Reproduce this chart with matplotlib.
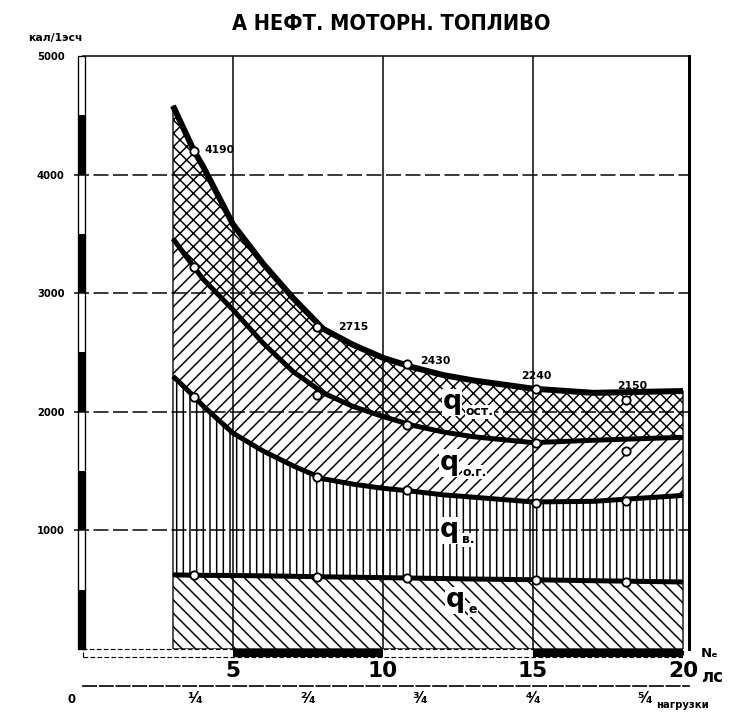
import numpy as np
import matplotlib
matplotlib.use('Agg', force=True)
import matplotlib.pyplot as plt
from matplotlib.patches import Rectangle

plt.rcParams['font.family'] = ['DejaVu Sans']
plt.rcParams['hatch.linewidth'] = 0.9

title = 'А НЕФТ. МОТОРН. ТОПЛИВО'
y_unit = 'кал/1эсч'

# мощность Ne, л.с. и границы слоёв баланса, кал/1эсч
ne = [3.0, 3.7, 4.0, 5.0, 6.0, 7.0, 8.0, 9.0, 10.0, 11.0, 12.0, 13.0, 15.0, 17.0, 20.0]
q_total = [4580, 4200, 4070, 3580, 3250, 2960, 2700, 2565, 2455, 2375, 2310, 2265, 2195, 2160, 2175]
q_og_top = [3460, 3220, 3120, 2860, 2580, 2340, 2160, 2045, 1960, 1885, 1830, 1790, 1740, 1760, 1785]
q_v_top = [2300, 2130, 2050, 1820, 1670, 1545, 1435, 1390, 1355, 1330, 1300, 1280, 1240, 1245, 1295]
q_e_top = [625, 622, 621, 620, 617, 613, 609, 605, 602, 598, 594, 590, 584, 576, 565]

# измеренные точки
pts_ne = [3.7, 7.8, 10.8, 15.1, 18.1]
pts_total = [4200, 2715, 2400, 2190, 2100]
pts_og = [3220, 2140, 1890, 1735, 1670]
pts_v = [2125, 1450, 1340, 1230, 1245]
pts_e = [622, 607, 600, 585, 568]
pts_labels = ['4190', '2715', '2430', '2240', '2150']

x_ticks = [5, 10, 15, 20]
y_ticks = [1000, 2000, 3000, 4000, 5000]
load_pos = [3.75, 7.5, 11.25, 15, 18.75]
load_labels = ['¹⁄₄', '²⁄₄', '³⁄₄', '⁴⁄₄', '⁵⁄₄']

fig = plt.figure(figsize=(753/120, 719/120), dpi=120)
ax = fig.add_axes([83/753, 70/719, 606/753, 593/719])
ax.set_xlim(0, 20.2)
ax.set_ylim(0, 5000)

for y in y_ticks[:-1]:
    ax.plot([-0.3, 20.2], [y, y], color='black', lw=0.9, ls=(0, (10, 3)), zorder=1, clip_on=False)
for xv in x_ticks[:-1]:
    ax.axvline(xv, color='black', lw=0.9, zorder=1)

zero = [0]*len(ne)
ax.fill_between(ne, zero, q_e_top, facecolor='none', edgecolor='black', hatch='\\\\\\', lw=0.8, zorder=2)
ax.fill_between(ne, q_e_top, q_v_top, facecolor='none', edgecolor='black', hatch='|||', lw=0.8, zorder=2)
ax.fill_between(ne, q_v_top, q_og_top, facecolor='none', edgecolor='black', hatch='///', lw=0.8, zorder=2)
ax.fill_between(ne, q_og_top, q_total, facecolor='none', edgecolor='black', hatch='xxx', lw=0.8, zorder=2)

ax.plot(ne, q_total, color='black', lw=3.6, solid_capstyle='butt', solid_joinstyle='round', zorder=3)
for curve in (q_og_top, q_v_top, q_e_top):
    ax.plot(ne, curve, color='black', lw=3.0, solid_capstyle='butt', solid_joinstyle='round', zorder=3)

for pts in (pts_total, pts_og, pts_v, pts_e):
    ax.plot(pts_ne, pts, 'o', ms=5, mfc='white', mec='black', mew=1.1, zorder=4)

offsets = [(0.35, 10, 'left'), (0.7, 0, 'left'), (0.45, 30, 'left'), (0, 110, 'center'), (0.2, 120, 'center')]
for xv, yv, lab, (dx, dy, ha) in zip(pts_ne, pts_total, pts_labels, offsets):
    ax.text(xv + dx, yv + dy, lab, ha=ha, va='center', fontsize=6.5, fontweight='bold', zorder=5)

# обозначения слоёв
layers = [(12.3, 2080, 'ост.'), (12.2, 1570, 'о.г.'), (12.2, 1000, 'в.'), (12.4, 410, 'е')]
for xv, yv, sub in layers:
    ax.text(xv, yv, 'q', ha='center', va='center', fontsize=16, fontweight='bold', zorder=5,
            bbox=dict(facecolor='white', edgecolor='none', pad=0.5))
    ax.text(xv + 0.45, yv - 80, sub, ha='left', va='center', fontsize=7.5, fontweight='bold', zorder=5,
            bbox=dict(facecolor='white', edgecolor='none', pad=0.3))

# шкала-линейка по осям
for spine in ('left', 'bottom'):
    ax.spines[spine].set_visible(False)
ax.spines['top'].set_linewidth(0.9)
ax.spines['right'].set_linewidth(1.8)

ax.add_patch(Rectangle((-0.18, 0), 0.25, 5000, fill=False, lw=0.8, clip_on=False, zorder=6))
for y0 in range(0, 5000, 1000):
    ax.add_patch(Rectangle((-0.18, y0), 0.25, 500, color='black', lw=0, clip_on=False, zorder=6))
ax.add_patch(Rectangle((0, -65), 20, 65, fill=False, lw=0.7, ls=(0, (4, 2)), clip_on=False, zorder=6))
for x0 in (5, 15):
    ax.add_patch(Rectangle((x0, -65), 5, 65, color='black', lw=0, clip_on=False, zorder=6))

ax.set_xticks(x_ticks)
ax.set_xticklabels([str(v) for v in x_ticks], fontsize=13, fontweight='bold')
ax.set_yticks(y_ticks)
ax.set_yticklabels([str(v) for v in y_ticks], fontsize=6, fontweight='bold')
ax.tick_params(axis='x', length=0, pad=7)
ax.tick_params(axis='y', length=0, pad=11)

sec = ax.secondary_xaxis(-0.063)
sec.set_xticks(load_pos)
sec.set_xticklabels(load_labels, fontsize=9, fontweight='bold')
sec.tick_params(length=0, pad=3)
sec.spines['bottom'].set_linewidth(1.0)
sec.spines['bottom'].set_linestyle((0, (8, 2)))

tr = ax.get_xaxis_transform()
ax.text(-0.4, -0.086, '0', transform=tr, ha='center', va='center', fontsize=7, fontweight='bold')
ax.text(19.1, -0.094, 'нагрузки', transform=tr, ha='left', va='center', fontsize=6, fontweight='bold')
ax.text(20.6, -0.008, 'Nₑ', transform=tr, ha='left', va='center', fontsize=8, fontweight='bold')
ax.text(20.6, -0.047, 'лс', transform=tr, ha='left', va='center', fontsize=10, fontweight='bold')

fig.text(0.52, 0.967, title, ha='center', va='center', fontsize=13, fontweight='bold',
         fontstretch='condensed')
fig.text(0.073, 0.947, y_unit, ha='center', va='center', fontsize=6.5, fontweight='bold')

fig.savefig('out.png', dpi=120)
